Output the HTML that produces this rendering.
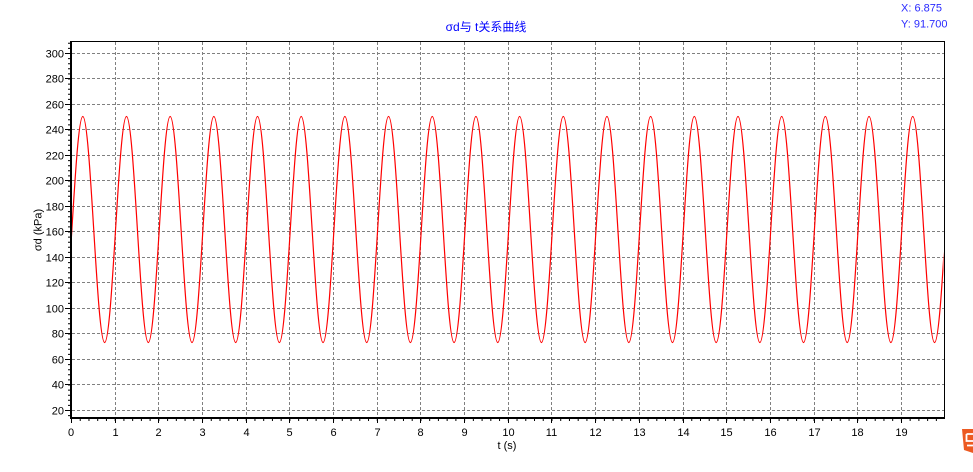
<!DOCTYPE html>
<html>
<head>
<meta charset="utf-8">
<style>
html,body{margin:0;padding:0;background:#fff;width:973px;height:472px;overflow:hidden}
svg{display:block}
text{font-family:"Liberation Sans","Noto Sans CJK SC",sans-serif}
</style>
</head>
<body>
<svg width="973" height="472" viewBox="0 0 973 472" xmlns="http://www.w3.org/2000/svg">
<defs>
<clipPath id="pc"><rect x="72" y="42" width="871.5" height="375"/></clipPath>
</defs>
<rect width="973" height="472" fill="#fff"/>

<!-- grid -->
<g stroke="#808080" stroke-width="1" stroke-dasharray="3,2" fill="none">
<path d="M72 53.5H944M72 78.5H944M72 104.5H944M72 129.5H944M72 155.5H944M72 180.5H944M72 206.5H944M72 231.5H944M72 257.5H944M72 282.5H944M72 308.5H944M72 333.5H944M72 359.5H944M72 384.5H944M72 410.5H944"/>
<path d="M115.5 42V417M158.5 42V417M202.5 42V417M246.5 42V417M289.5 42V417M333.5 42V417M377.5 42V417M420.5 42V417M464.5 42V417M508.5 42V417M551.5 42V417M595.5 42V417M639.5 42V417M683.5 42V417M726.5 42V417M770.5 42V417M814.5 42V417M857.5 42V417M901.5 42V417"/>
</g>

<!-- curve -->
<path clip-path="url(#pc)" fill="none" stroke="#ff0000" stroke-width="1.2" d="M60.96 342.5 c7.937 0 13.903 -226 21.84 -226 s13.903 226 21.84 226 s13.903 -226 21.84 -226 s13.903 226 21.84 226 s13.903 -226 21.84 -226 s13.903 226 21.84 226 s13.903 -226 21.84 -226 s13.903 226 21.84 226 s13.903 -226 21.84 -226 s13.903 226 21.84 226 s13.903 -226 21.84 -226 s13.903 226 21.84 226 s13.903 -226 21.84 -226 s13.903 226 21.84 226 s13.903 -226 21.84 -226 s13.903 226 21.84 226 s13.903 -226 21.84 -226 s13.903 226 21.84 226 s13.903 -226 21.84 -226 s13.903 226 21.84 226 s13.903 -226 21.84 -226 s13.903 226 21.84 226 s13.903 -226 21.84 -226 s13.903 226 21.84 226 s13.903 -226 21.84 -226 s13.903 226 21.84 226 s13.903 -226 21.84 -226 s13.903 226 21.84 226 s13.903 -226 21.84 -226 s13.903 226 21.84 226 s13.903 -226 21.84 -226 s13.903 226 21.84 226 s13.903 -226 21.84 -226 s13.903 226 21.84 226 s13.903 -226 21.84 -226 s13.903 226 21.84 226 s13.903 -226 21.84 -226 s13.903 226 21.84 226 s13.903 -226 21.84 -226 s13.903 226 21.84 226 s13.903 -226 21.84 -226"/>

<!-- frame -->
<rect x="70" y="41" width="875" height="1" fill="#000"/>
<rect x="944" y="41" width="1" height="378" fill="#000"/>
<rect x="70" y="41" width="2" height="378" fill="#000"/>
<rect x="70" y="417" width="875" height="2" fill="#000"/>

<!-- x ticks -->
<line x1="71" y1="420" x2="944" y2="420" stroke="#000" stroke-width="2" stroke-dasharray="1 7.736"/>
<g stroke="#000" stroke-width="1">
<path d="M71.5 419V423M115.5 419V423M158.5 419V423M202.5 419V423M246.5 419V423M289.5 419V423M333.5 419V423M377.5 419V423M420.5 419V423M464.5 419V423M508.5 419V423M551.5 419V423M595.5 419V423M639.5 419V423M683.5 419V423M726.5 419V423M770.5 419V423M814.5 419V423M857.5 419V423M901.5 419V423"/>
</g>
<!-- y ticks -->
<line x1="69" y1="53" x2="69" y2="418" stroke="#000" stroke-width="2" stroke-dasharray="1 4.1"/>
<line x1="69" y1="54" x2="69" y2="41" stroke="#000" stroke-width="2" stroke-dasharray="1 4.1"/>
<g stroke="#000" stroke-width="1">
<path d="M65 53.5H70M65 78.5H70M65 104.5H70M65 129.5H70M65 155.5H70M65 180.5H70M65 206.5H70M65 231.5H70M65 257.5H70M65 282.5H70M65 308.5H70M65 333.5H70M65 359.5H70M65 384.5H70M65 410.5H70"/>
</g>

<!-- y labels -->
<g font-size="11" fill="#000" text-anchor="end">
<text x="64" y="57.5">300</text>
<text x="64" y="82.5">280</text>
<text x="64" y="108.5">260</text>
<text x="64" y="133.5">240</text>
<text x="64" y="159.5">220</text>
<text x="64" y="184.5">200</text>
<text x="64" y="210.5">180</text>
<text x="64" y="235.5">160</text>
<text x="64" y="261.5">140</text>
<text x="64" y="286.5">120</text>
<text x="64" y="312.5">100</text>
<text x="64" y="337.5">80</text>
<text x="64" y="363.5">60</text>
<text x="64" y="388.5">40</text>
<text x="64" y="414.5">20</text>
</g>

<!-- x labels -->
<g font-size="11" fill="#000" text-anchor="middle">
<text x="71" y="436">0</text>
<text x="115.5" y="436">1</text>
<text x="158.5" y="436">2</text>
<text x="202.5" y="436">3</text>
<text x="246.5" y="436">4</text>
<text x="289.5" y="436">5</text>
<text x="333.5" y="436">6</text>
<text x="377.5" y="436">7</text>
<text x="420.5" y="436">8</text>
<text x="464.5" y="436">9</text>
<text x="508.5" y="436">10</text>
<text x="551.5" y="436">11</text>
<text x="595.5" y="436">12</text>
<text x="639.5" y="436">13</text>
<text x="683.5" y="436">14</text>
<text x="726.5" y="436">15</text>
<text x="770.5" y="436">16</text>
<text x="814.5" y="436">17</text>
<text x="857.5" y="436">18</text>
<text x="901.5" y="436">19</text>
</g>

<!-- axis titles -->
<text x="507" y="449" font-size="11" fill="#000" text-anchor="middle">t (s)</text>
<text transform="translate(41.5,230) rotate(-90)" font-size="11" fill="#000" text-anchor="middle">σd (kPa)</text>

<!-- chart title -->
<text x="486" y="31" font-size="12" fill="#0000ff" text-anchor="middle">σd与 t关系曲线</text>

<!-- cursor readout -->
<text x="901" y="11.5" font-size="11" fill="#2a2aff">X: 6.875</text>
<text x="901" y="27.5" font-size="11" fill="#2a2aff">Y: 91.700</text>

<!-- corner icon -->
<polygon points="962,429 973,429 973,453 964,450" fill="#ec5a22"/>
<path d="M966.5 434H973M966.5 434V441H973M967 445.5H973" stroke="#fff" stroke-width="1.8" fill="none"/>
</svg>
</body>
</html>
